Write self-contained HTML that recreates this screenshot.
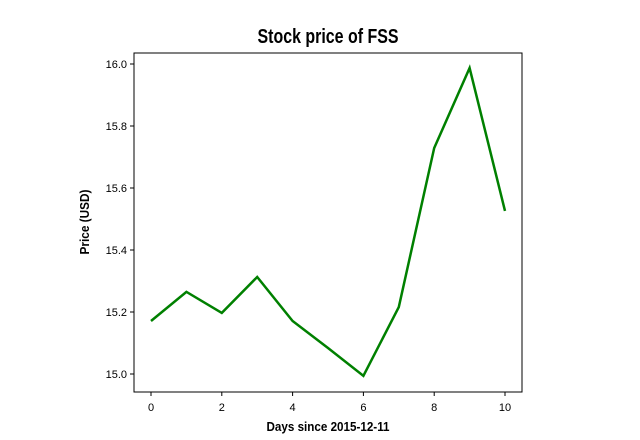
<!DOCTYPE html>
<html><head><meta charset="utf-8"><style>
body{margin:0;background:#fff;}
svg{display:block;}
text{font-family:"Liberation Sans",sans-serif;}
.t{font-family:"Liberation Sans Narrow","Liberation Sans",sans-serif;font-weight:bold;}
</style></head><body>
<svg id="chart" width="640" height="440">
<text class="t" x="328" y="43" text-anchor="middle" font-size="20" textLength="141" lengthAdjust="spacingAndGlyphs">Stock price of FSS</text>
<rect x="134" y="53" width="388" height="339" fill="none" stroke="#000" stroke-width="1"/>
<g id="ticks"></g>
<path id="line" fill="none" stroke="#008000" stroke-width="2.5"/>
<text class="t" x="328" y="431" text-anchor="middle" font-size="13" textLength="123" lengthAdjust="spacingAndGlyphs">Days since 2015-12-11</text>
<text class="t" x="0" y="0" transform="translate(89,222) rotate(-90)" text-anchor="middle" font-size="13" textLength="65" lengthAdjust="spacingAndGlyphs">Price (USD)</text>
</svg>
<script>
const days=[0,1,2,3,4,5,6,7,8,9,10];
const prices=[15.171,15.265,15.197,15.313,15.171,15.084,14.994,15.216,15.729,15.987,15.526];
const xTicks=[0,2,4,6,8,10];
const yTicks=[15.0,15.2,15.4,15.6,15.8,16.0];
const xs=v=>151+v*35.4;
const ys=v=>374-(v-15)*310;
const NS="http://www.w3.org/2000/svg";
const g=document.getElementById('ticks');
function mk(tag,attrs){const e=document.createElementNS(NS,tag);for(const k in attrs)e.setAttribute(k,attrs[k]);g.appendChild(e);return e;}
xTicks.forEach(v=>{
 const l=mk('line',{x1:xs(v),x2:xs(v),y1:392,y2:396,stroke:'#000'});
 
 
 const t=mk('text',{x:xs(v),y:411,'text-anchor':'middle','font-size':'11'});
 t.textContent=v;
 
 
});
yTicks.forEach(v=>{
 const l=mk('line',{x1:130,x2:134,y1:ys(v),y2:ys(v),stroke:'#000'});
 
 
 const t=mk('text',{x:127,y:ys(v)+4,'text-anchor':'end','font-size':'11'});
 t.textContent=v.toFixed(1);
 
 
});
document.getElementById('line').setAttribute('d',days.map((d,i)=>(i?'L':'M')+xs(d)+','+ys(prices[i])).join(' '));
</script>
</body></html>
